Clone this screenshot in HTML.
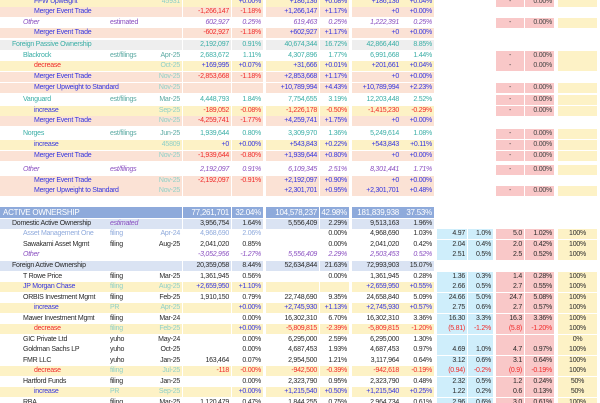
<!DOCTYPE html>
<html><head><meta charset="utf-8"><style>
html,body{margin:0;padding:0;background:#fff;width:600px;height:403px;overflow:hidden;position:relative}
.r{position:absolute;left:0;width:600px;height:10px;font-family:"Liberation Sans",sans-serif;font-size:7px;letter-spacing:-0.25px}
.c{position:absolute;top:0;height:9.5px;line-height:9.5px;text-align:right;padding-right:2px;box-sizing:border-box;white-space:nowrap;overflow:hidden}
.L{left:0;width:182px;text-align:left;padding-right:0}
.t{left:110px;width:40px;text-align:left;height:9.5px}
.d{left:145px;width:37px}
.a{left:183px;width:48px}.b{left:232px;width:31px}
.e{left:266px;width:53px}.f{left:320px;width:29px}
.g{left:352px;width:49px}.h{left:401px;width:33px}
.i{left:437px;width:30px}.j{left:468px;width:25px}
.k{left:496px;width:28px}.l{left:525px;width:29px}
.m{left:558px;width:39px;text-align:center;padding-right:0}
.dash{text-align:center;padding-right:0}
.s{background:#fbe2d5}.y{background:#fdf2c6}.gr{background:#eeeeee}.hb{background:#8eaadb}.lb{background:#dae3f3}
.bl{background:#cfeefb}.rd{background:#f9c8c8}.yl{background:#fdf2c6}
.B{color:#3535e0}.R{color:#f02a2a}.T{color:#3aaea6}.P{color:#8a4fc0;font-style:italic}.K{color:#2a2a2a}.LB{color:#8faadc}.TL{color:#8fd0c8}.G{color:#5aa9a2}.W{color:#fff}
.x{color:#444}
</style></head><body>

<!-- passive section -->
<div class="r" style="top:-3px"><div class="c L y"><span class="B" style="padding-left:34px">FFW Upweight</span></div><div class="c d TL">45931</div><div class="c a y"></div><div class="c b y B">+0.00%</div><div class="c e y B">+186,136</div><div class="c f y B">+0.08%</div><div class="c g y B">+186,136</div><div class="c h y B">+0.04%</div><div class="c k rd x dash">-</div><div class="c l rd x">0.00%</div><div class="c m yl"></div></div>

<div class="r" style="top:7px"><div class="c L s"><span class="B" style="padding-left:34px">Merger Event Trade</span></div><div class="c a s R">-1,266,147</div><div class="c b s R">-1.18%</div><div class="c e s B">+1,266,147</div><div class="c f s B">+1.17%</div><div class="c g s B">+0</div><div class="c h s B">+0.00%</div></div>

<div class="r" style="top:18px"><div class="c L"><span class="P" style="padding-left:23px">Other</span></div><div class="c t P" style="font-style:normal">estimated</div><div class="c a P">602,927</div><div class="c b P">0.25%</div><div class="c e P">619,463</div><div class="c f P">0.25%</div><div class="c g P">1,222,391</div><div class="c h P">0.25%</div><div class="c k rd x dash">-</div><div class="c l rd x">0.00%</div><div class="c m yl"></div></div>

<div class="r" style="top:28px"><div class="c L s"><span class="B" style="padding-left:34px">Merger Event Trade</span></div><div class="c a s R">-602,927</div><div class="c b s R">-1.18%</div><div class="c e s B">+602,927</div><div class="c f s B">+1.17%</div><div class="c g s B">+0</div><div class="c h s B">+0.00%</div></div>

<div class="r" style="top:40px"><div class="c L gr"><span class="T" style="padding-left:12px">Foreign Passive Ownership</span></div><div class="c a gr T">2,192,097</div><div class="c b gr T">0.91%</div><div class="c e gr T">40,674,344</div><div class="c f gr T">16.72%</div><div class="c g gr T">42,866,440</div><div class="c h gr T">8.85%</div></div>

<div class="r" style="top:51px"><div class="c L"><span class="T" style="padding-left:23px">Blackrock</span></div><div class="c t G">est/filings</div><div class="c d G">Apr-25</div><div class="c a T">2,683,672</div><div class="c b T">1.11%</div><div class="c e T">4,307,896</div><div class="c f T">1.77%</div><div class="c g T">6,991,668</div><div class="c h T">1.44%</div><div class="c k rd x dash">-</div><div class="c l rd x">0.00%</div><div class="c m yl"></div></div>

<div class="r" style="top:61px"><div class="c L y"><span class="R" style="padding-left:34px">decrease</span></div><div class="c d TL">Oct-25</div><div class="c a y B">+169,995</div><div class="c b y B">+0.07%</div><div class="c e y B">+31,666</div><div class="c f y B">+0.01%</div><div class="c g y B">+201,661</div><div class="c h y B">+0.04%</div><div class="c k rd x dash">-</div><div class="c l rd x">0.00%</div><div class="c m yl"></div></div>

<div class="r" style="top:72px"><div class="c L s"><span class="B" style="padding-left:34px">Merger Event Trade</span></div><div class="c d TL">Nov-25</div><div class="c a s R">-2,853,668</div><div class="c b s R">-1.18%</div><div class="c e s B">+2,853,668</div><div class="c f s B">+1.17%</div><div class="c g s B">+0</div><div class="c h s B">+0.00%</div></div>

<div class="r" style="top:83px"><div class="c L s"><span class="B" style="padding-left:34px">Merger Upweight to Standard</span></div><div class="c d TL">Nov-25</div><div class="c a s"></div><div class="c b s"></div><div class="c e s B">+10,789,994</div><div class="c f s B">+4.43%</div><div class="c g s B">+10,789,994</div><div class="c h s B">+2.23%</div><div class="c k rd x dash">-</div><div class="c l rd x">0.00%</div><div class="c m yl"></div></div>

<div class="r" style="top:95px"><div class="c L"><span class="T" style="padding-left:23px">Vanguard</span></div><div class="c t G">est/filings</div><div class="c d G">Mar-25</div><div class="c a T">4,448,793</div><div class="c b T">1.84%</div><div class="c e T">7,754,655</div><div class="c f T">3.19%</div><div class="c g T">12,203,448</div><div class="c h T">2.52%</div><div class="c k rd x dash">-</div><div class="c l rd x">0.00%</div><div class="c m yl"></div></div>

<div class="r" style="top:106px"><div class="c L y"><span class="B" style="padding-left:34px">increase</span></div><div class="c d TL">Sep-25</div><div class="c a y R">-189,052</div><div class="c b y R">-0.08%</div><div class="c e y R">-1,226,178</div><div class="c f y R">-0.50%</div><div class="c g y R">-1,415,230</div><div class="c h y R">-0.29%</div><div class="c k rd x dash">-</div><div class="c l rd x">0.00%</div><div class="c m yl"></div></div>

<div class="r" style="top:116px"><div class="c L s"><span class="B" style="padding-left:34px">Merger Event Trade</span></div><div class="c d TL">Nov-25</div><div class="c a s R">-4,259,741</div><div class="c b s R">-1.77%</div><div class="c e s B">+4,259,741</div><div class="c f s B">+1.75%</div><div class="c g s B">+0</div><div class="c h s B">+0.00%</div></div>

<div class="r" style="top:129px"><div class="c L"><span class="T" style="padding-left:23px">Norges</span></div><div class="c t G">est/filings</div><div class="c d G">Jun-25</div><div class="c a T">1,939,644</div><div class="c b T">0.80%</div><div class="c e T">3,309,970</div><div class="c f T">1.36%</div><div class="c g T">5,249,614</div><div class="c h T">1.08%</div><div class="c k rd x dash">-</div><div class="c l rd x">0.00%</div><div class="c m yl"></div></div>

<div class="r" style="top:140px"><div class="c L y"><span class="B" style="padding-left:34px">increase</span></div><div class="c d TL">45809</div><div class="c a y B">+0</div><div class="c b y B">+0.00%</div><div class="c e y B">+543,843</div><div class="c f y B">+0.22%</div><div class="c g y B">+543,843</div><div class="c h y B">+0.11%</div><div class="c k rd x dash">-</div><div class="c l rd x">0.00%</div><div class="c m yl"></div></div>

<div class="r" style="top:151px"><div class="c L s"><span class="B" style="padding-left:34px">Merger Event Trade</span></div><div class="c d TL">Nov-25</div><div class="c a s R">-1,939,644</div><div class="c b s R">-0.80%</div><div class="c e s B">+1,939,644</div><div class="c f s B">+0.80%</div><div class="c g s B">+0</div><div class="c h s B">+0.00%</div><div class="c k rd x dash">-</div><div class="c l rd x">0.00%</div><div class="c m yl"></div></div>

<div class="r" style="top:165px"><div class="c L"><span class="P" style="padding-left:23px">Other</span></div><div class="c t P">est/filings</div><div class="c a P">2,192,097</div><div class="c b P">0.91%</div><div class="c e P">6,109,345</div><div class="c f P">2.51%</div><div class="c g P">8,301,441</div><div class="c h P">1.71%</div><div class="c k rd x dash">-</div><div class="c l rd x">0.00%</div><div class="c m yl"></div></div>

<div class="r" style="top:176px"><div class="c L s"><span class="B" style="padding-left:34px">Merger Event Trade</span></div><div class="c d TL">Nov-25</div><div class="c a s R">-2,192,097</div><div class="c b s R">-0.91%</div><div class="c e s B">+2,192,097</div><div class="c f s B">+0.90%</div><div class="c g s B">+0</div><div class="c h s B">+0.00%</div></div>

<div class="r" style="top:186px"><div class="c L s"><span class="B" style="padding-left:34px">Merger Upweight to Standard</span></div><div class="c d TL">Nov-25</div><div class="c a s"></div><div class="c b s"></div><div class="c e s B">+2,301,701</div><div class="c f s B">+0.95%</div><div class="c g s B">+2,301,701</div><div class="c h s B">+0.48%</div><div class="c k rd x dash">-</div><div class="c l rd x">0.00%</div><div class="c m yl"></div></div>

<!-- active section -->
<div class="r" style="top:207px;font-size:8px"><div class="c L hb" style="height:11px;line-height:11px"><span class="W" style="padding-left:3px">ACTIVE OWNERSHIP</span></div><div class="c a hb W" style="height:11px;line-height:11px">77,261,701</div><div class="c b hb W" style="height:11px;line-height:11px">32.04%</div><div class="c e hb W" style="height:11px;line-height:11px">104,578,237</div><div class="c f hb W" style="height:11px;line-height:11px">42.98%</div><div class="c g hb W" style="height:11px;line-height:11px">181,839,938</div><div class="c h hb W" style="height:11px;line-height:11px">37.53%</div></div>

<div class="r" style="top:219px"><div class="c L lb"><span class="K" style="padding-left:12px">Domestic Active Ownership</span></div><div class="c t P">estimated</div><div class="c a lb K">3,956,754</div><div class="c b lb K">1.64%</div><div class="c e lb K">5,556,409</div><div class="c f lb K">2.29%</div><div class="c g lb K">9,513,163</div><div class="c h lb K">1.96%</div></div>

<div class="r" style="top:229px"><div class="c L"><span class="LB" style="padding-left:23px">Asset Management One</span></div><div class="c t LB">filing</div><div class="c d LB">Apr-24</div><div class="c a LB">4,968,690</div><div class="c b LB">2.06%</div><div class="c e"></div><div class="c f K">0.00%</div><div class="c g K">4,968,690</div><div class="c h K">1.03%</div><div class="c i bl K">4.97</div><div class="c j bl K">1.0%</div><div class="c k rd K">5.0</div><div class="c l rd K">1.02%</div><div class="c m yl K">100%</div></div>

<div class="r" style="top:240px"><div class="c L"><span class="K" style="padding-left:23px">Sawakami Asset Mgmt</span></div><div class="c t K">filing</div><div class="c d K">Aug-25</div><div class="c a K">2,041,020</div><div class="c b K">0.85%</div><div class="c f K">0.00%</div><div class="c g K">2,041,020</div><div class="c h K">0.42%</div><div class="c i bl K">2.04</div><div class="c j bl K">0.4%</div><div class="c k rd K">2.0</div><div class="c l rd K">0.42%</div><div class="c m yl K">100%</div></div>

<div class="r" style="top:250px"><div class="c L"><span class="P" style="padding-left:23px">Other</span></div><div class="c a P">-3,052,956</div><div class="c b P">-1.27%</div><div class="c e P">5,556,409</div><div class="c f P">2.29%</div><div class="c g P">2,503,453</div><div class="c h P">0.52%</div><div class="c i bl K">2.51</div><div class="c j bl K">0.5%</div><div class="c k rd K">2.5</div><div class="c l rd K">0.52%</div><div class="c m yl K">100%</div></div>

<div class="r" style="top:261px"><div class="c L lb"><span class="K" style="padding-left:12px">Foreign Active Ownership</span></div><div class="c a lb K">20,359,058</div><div class="c b lb K">8.44%</div><div class="c e lb K">52,634,844</div><div class="c f lb K">21.63%</div><div class="c g lb K">72,993,903</div><div class="c h lb K">15.07%</div></div>

<div class="r" style="top:272px"><div class="c L"><span class="K" style="padding-left:23px">T Rowe Price</span></div><div class="c t K">filing</div><div class="c d K">Mar-25</div><div class="c a K">1,361,945</div><div class="c b K">0.56%</div><div class="c f K">0.00%</div><div class="c g K">1,361,945</div><div class="c h K">0.28%</div><div class="c i bl K">1.36</div><div class="c j bl K">0.3%</div><div class="c k rd K">1.4</div><div class="c l rd K">0.28%</div><div class="c m yl K">100%</div></div>

<div class="r" style="top:282px"><div class="c L y"><span class="B" style="padding-left:23px">JP Morgan Chase</span></div><div class="c t TL">filing</div><div class="c d TL">Aug-25</div><div class="c a y B">+2,659,950</div><div class="c b y B">+1.10%</div><div class="c e y"></div><div class="c f y"></div><div class="c g y B">+2,659,950</div><div class="c h y B">+0.55%</div><div class="c i bl K">2.66</div><div class="c j bl K">0.5%</div><div class="c k rd K">2.7</div><div class="c l rd K">0.55%</div><div class="c m yl K">100%</div></div>

<div class="r" style="top:293px"><div class="c L"><span class="K" style="padding-left:23px">ORBIS Investment Mgmt</span></div><div class="c t K">filing</div><div class="c d K">Feb-25</div><div class="c a K">1,910,150</div><div class="c b K">0.79%</div><div class="c e K">22,748,690</div><div class="c f K">9.35%</div><div class="c g K">24,658,840</div><div class="c h K">5.09%</div><div class="c i bl K">24.66</div><div class="c j bl K">5.0%</div><div class="c k rd K">24.7</div><div class="c l rd K">5.08%</div><div class="c m yl K">100%</div></div>

<div class="r" style="top:303px"><div class="c L y"><span class="B" style="padding-left:34px">increase</span></div><div class="c t TL">PR</div><div class="c d TL">Apr-25</div><div class="c a y"></div><div class="c b y B">+0.00%</div><div class="c e y B">+2,745,930</div><div class="c f y B">+1.13%</div><div class="c g y B">+2,745,930</div><div class="c h y B">+0.57%</div><div class="c i bl K">2.75</div><div class="c j bl K">0.6%</div><div class="c k rd K">2.7</div><div class="c l rd K">0.57%</div><div class="c m yl K">100%</div></div>

<div class="r" style="top:314px"><div class="c L"><span class="K" style="padding-left:23px">Mawer Investment Mgmt</span></div><div class="c t K">filing</div><div class="c d K">Mar-24</div><div class="c b K">0.00%</div><div class="c e K">16,302,310</div><div class="c f K">6.70%</div><div class="c g K">16,302,310</div><div class="c h K">3.36%</div><div class="c i bl K">16.30</div><div class="c j bl K">3.3%</div><div class="c k rd K">16.3</div><div class="c l rd K">3.36%</div><div class="c m yl K">100%</div></div>

<div class="r" style="top:324px"><div class="c L y"><span class="R" style="padding-left:34px">decrease</span></div><div class="c t TL">filing</div><div class="c d TL">Feb-25</div><div class="c a y"></div><div class="c b y B">+0.00%</div><div class="c e y R">-5,809,815</div><div class="c f y R">-2.39%</div><div class="c g y R">-5,809,815</div><div class="c h y R">-1.20%</div><div class="c i bl R">(5.81)</div><div class="c j bl R">-1.2%</div><div class="c k rd R">(5.8)</div><div class="c l rd R">-1.20%</div><div class="c m yl K">100%</div></div>

<div class="r" style="top:335px"><div class="c L"><span class="K" style="padding-left:23px">GIC Private Ltd</span></div><div class="c t K">yuho</div><div class="c d K">May-24</div><div class="c b K">0.00%</div><div class="c e K">6,295,000</div><div class="c f K">2.59%</div><div class="c g K">6,295,000</div><div class="c h K">1.30%</div><div class="c i bl"></div><div class="c j bl"></div><div class="c k rd"></div><div class="c l rd"></div><div class="c m yl K">0%</div></div>

<div class="r" style="top:345px"><div class="c L"><span class="K" style="padding-left:23px">Goldman Sachs LP</span></div><div class="c t K">yuho</div><div class="c d K">Oct-25</div><div class="c b K">0.00%</div><div class="c e K">4,687,453</div><div class="c f K">1.93%</div><div class="c g K">4,687,453</div><div class="c h K">0.97%</div><div class="c i bl K">4.69</div><div class="c j bl K">1.0%</div><div class="c k rd K">4.7</div><div class="c l rd K">0.97%</div><div class="c m yl K">100%</div></div>

<div class="r" style="top:356px"><div class="c L"><span class="K" style="padding-left:23px">FMR LLC</span></div><div class="c t K">yuho</div><div class="c d K">Jan-25</div><div class="c a K">163,464</div><div class="c b K">0.07%</div><div class="c e K">2,954,500</div><div class="c f K">1.21%</div><div class="c g K">3,117,964</div><div class="c h K">0.64%</div><div class="c i bl K">3.12</div><div class="c j bl K">0.6%</div><div class="c k rd K">3.1</div><div class="c l rd K">0.64%</div><div class="c m yl K">100%</div></div>

<div class="r" style="top:366px"><div class="c L y"><span class="R" style="padding-left:34px">decrease</span></div><div class="c t TL">filing</div><div class="c d TL">Jul-25</div><div class="c a y R">-118</div><div class="c b y R">-0.00%</div><div class="c e y R">-942,500</div><div class="c f y R">-0.39%</div><div class="c g y R">-942,618</div><div class="c h y R">-0.19%</div><div class="c i bl R">(0.94)</div><div class="c j bl R">-0.2%</div><div class="c k rd R">(0.9)</div><div class="c l rd R">-0.19%</div><div class="c m yl K">100%</div></div>

<div class="r" style="top:377px"><div class="c L"><span class="K" style="padding-left:23px">Hartford Funds</span></div><div class="c t K">filing</div><div class="c d K">Jan-25</div><div class="c b K">0.00%</div><div class="c e K">2,323,790</div><div class="c f K">0.95%</div><div class="c g K">2,323,790</div><div class="c h K">0.48%</div><div class="c i bl K">2.32</div><div class="c j bl K">0.5%</div><div class="c k rd K">1.2</div><div class="c l rd K">0.24%</div><div class="c m yl K">50%</div></div>

<div class="r" style="top:387px"><div class="c L y"><span class="B" style="padding-left:34px">increase</span></div><div class="c t TL">PR</div><div class="c d TL">Sep-25</div><div class="c a y"></div><div class="c b y B">+0.00%</div><div class="c e y B">+1,215,540</div><div class="c f y B">+0.50%</div><div class="c g y B">+1,215,540</div><div class="c h y B">+0.25%</div><div class="c i bl K">1.22</div><div class="c j bl K">0.2%</div><div class="c k rd K">0.6</div><div class="c l rd K">0.13%</div><div class="c m yl K">50%</div></div>

<div class="r" style="top:398px"><div class="c L"><span class="K" style="padding-left:23px">RBA</span></div><div class="c t K">filing</div><div class="c d K">Mar-25</div><div class="c a K">1,120,479</div><div class="c b K">0.47%</div><div class="c e K">1,844,255</div><div class="c f K">0.75%</div><div class="c g K">2,964,734</div><div class="c h K">0.61%</div><div class="c i bl K">2.96</div><div class="c j bl K">0.6%</div><div class="c k rd K">3.0</div><div class="c l rd K">0.61%</div><div class="c m yl K">100%</div></div>

</body></html>
